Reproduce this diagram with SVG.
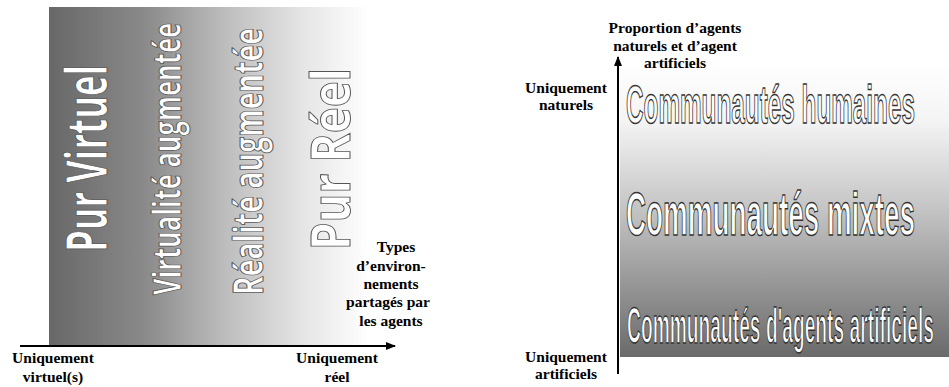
<svg xmlns="http://www.w3.org/2000/svg" width="949" height="387" viewBox="0 0 949 387">
<style>
.lbl{font-family:"Liberation Serif","Tinos","DejaVu Serif","Times New Roman",serif;font-weight:bold;font-size:15.5px;fill:#000;text-anchor:middle}
.env{font-family:"Open Sans","DejaVu Sans",sans-serif;font-weight:bold;fill:#fff;stroke:#555;stroke-width:1}
.com{font-family:"Liberation Sans Narrow","Liberation Sans",Arial,sans-serif;font-weight:bold;fill:#fff;stroke:#333;stroke-width:1.5}
.axis{stroke:#000;stroke-width:2;fill:none}
</style>
<defs>
<linearGradient id="gh" x1="0" y1="0" x2="1" y2="0">
<stop offset="0" stop-color="#686868"/>
<stop offset="0.3" stop-color="#8a8a8a"/>
<stop offset="0.55" stop-color="#bdbdbd"/>
<stop offset="0.8" stop-color="#e6e6e6"/>
<stop offset="1" stop-color="#ffffff"/>
</linearGradient>
<linearGradient id="gv" x1="0" y1="0" x2="0" y2="1">
<stop offset="0" stop-color="#ffffff"/>
<stop offset="0.2" stop-color="#f4f4f4"/>
<stop offset="0.5" stop-color="#c4c4c4"/>
<stop offset="0.8" stop-color="#8e8e8e"/>
<stop offset="1" stop-color="#6a6a6a"/>
</linearGradient>
<marker id="ah" markerWidth="10" markerHeight="8" refX="9" refY="4" orient="auto" markerUnits="userSpaceOnUse">
<path d="M0,0 L10,4 L0,8 Z" fill="#000"/>
</marker>
</defs>

<g id="left-panel">
<rect x="49" y="7" width="320" height="339" fill="url(#gh)"/>
<text class="env" font-size="58" transform="translate(107,252) rotate(-90)" textLength="187" lengthAdjust="spacingAndGlyphs">Pur Virtuel</text>
<text class="env" font-size="40" transform="translate(181,295) rotate(-90)" textLength="272" lengthAdjust="spacingAndGlyphs">Virtualité augmentée</text>
<text class="env" font-size="42" transform="translate(263,295) rotate(-90)" textLength="267" lengthAdjust="spacingAndGlyphs">Réalité augmentée</text>
<text class="env" font-size="53" transform="translate(350,250) rotate(-90)" textLength="182" lengthAdjust="spacingAndGlyphs">Pur Réel</text>
</g>

<g id="right-panel">
<rect x="620" y="62" width="329" height="295" fill="url(#gv)"/>
<text class="com" font-size="54" x="626" y="123" textLength="289" lengthAdjust="spacingAndGlyphs">Communautés humaines</text>
<text class="com" font-size="61" x="626" y="235" textLength="289" lengthAdjust="spacingAndGlyphs">Communautés mixtes</text>
<text class="com" font-size="50" x="627" y="343" textLength="307" lengthAdjust="spacingAndGlyphs">Communautés d'agents artificiels</text>
</g>

<g id="connectors">
<line class="axis" x1="20" y1="346" x2="395" y2="346" marker-end="url(#ah)"/>
<line class="axis" x1="618" y1="374" x2="618" y2="57" marker-end="url(#ah)"/>
</g>

<g id="labels-left">
<text class="lbl" x="53" y="363">Uniquement</text>
<text class="lbl" x="53" y="382">virtuel(s)</text>
<text class="lbl" x="337" y="363">Uniquement</text>
<text class="lbl" x="337" y="382">réel</text>
<text class="lbl" x="396" y="252">Types</text>
<text class="lbl" x="391" y="271">d’environ-</text>
<text class="lbl" x="391" y="289">nements</text>
<text class="lbl" x="388" y="307">partagés par</text>
<text class="lbl" x="391" y="326">les agents</text>
</g>

<g id="labels-right">
<text class="lbl" x="675" y="33">Proportion d’agents</text>
<text class="lbl" x="675" y="51">naturels et d’agent</text>
<text class="lbl" x="675" y="68">artificiels</text>
<text class="lbl" x="566" y="93">Uniquement</text>
<text class="lbl" x="566" y="110">naturels</text>
<text class="lbl" x="566" y="362">Uniquement</text>
<text class="lbl" x="566" y="379">artificiels</text>
</g>
</svg>
